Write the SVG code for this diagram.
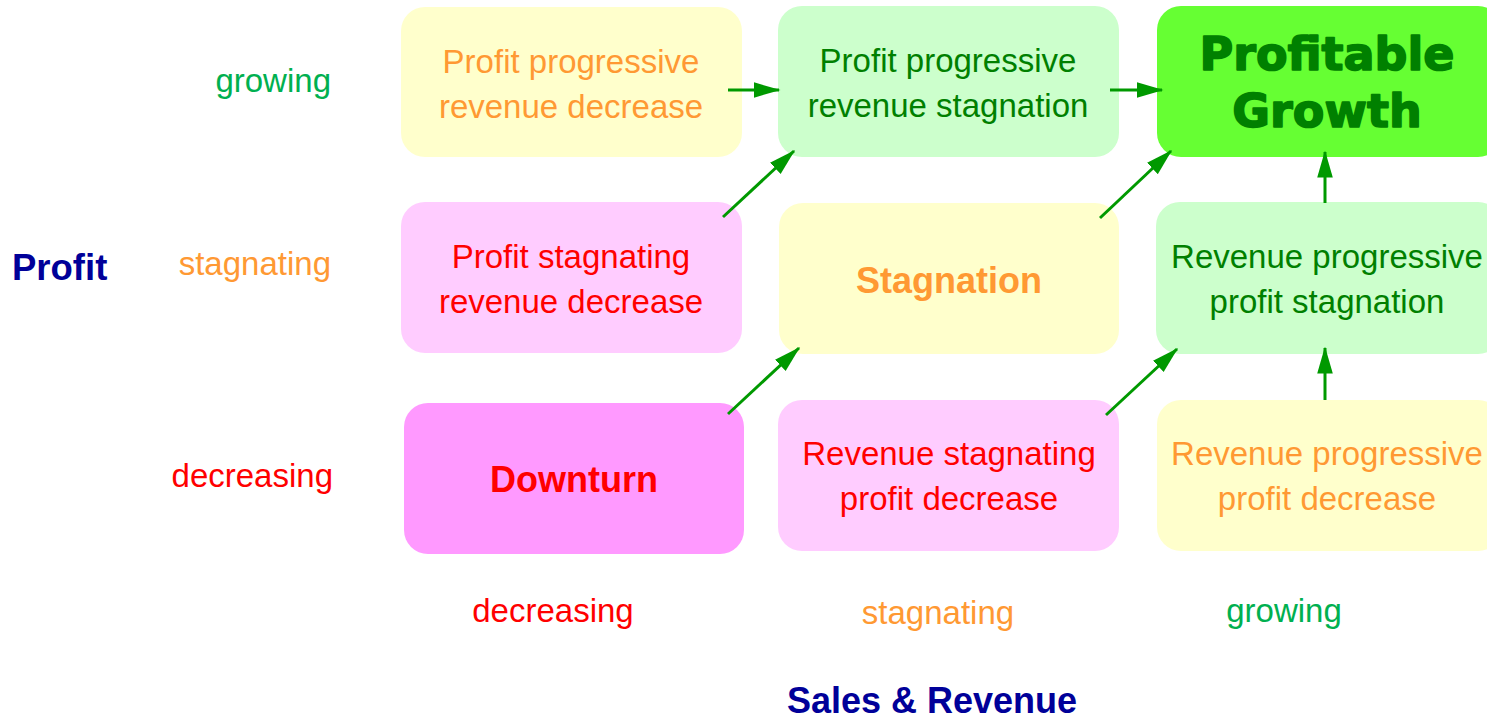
<svg xmlns="http://www.w3.org/2000/svg" width="1487" height="723" viewBox="0 0 1487 723">
<style>
text{font-family:"Liberation Sans",Arial,sans-serif;font-size:33px;text-anchor:middle}
.box{stroke:none}
.y{fill:#ffffcc}.g{fill:#ccffcc}.p{fill:#ffccff}.pp{fill:#ff99ff}.gg{fill:#66ff33}
.to{fill:#ff9933}.tg{fill:#008000}.tr{fill:#ff0000}.tn{fill:#000099}.ag{fill:#00b050}
.b{font-weight:bold}
.ax{text-anchor:end}
.big{font-family:"DejaVu Sans",sans-serif;font-weight:bold;font-size:46px;stroke:#008000;stroke-width:1.6;stroke-linejoin:round}
.c{stroke:#009900;stroke-width:3;fill:none;marker-end:url(#ah)}
</style>
<defs>
<marker id="ah" markerWidth="9" markerHeight="6" refX="8.5" refY="2.6" orient="auto" markerUnits="strokeWidth">
<path d="M0,0 L9,2.6 L0,5.2 Z" fill="#009900"/>
</marker>
</defs>
<rect width="1487" height="723" fill="#ffffff"/>

<g id="axis-labels">
<text class="ag ax" x="331" y="92">growing</text>
<text class="to ax" x="331" y="275">stagnating</text>
<text class="tr ax" x="333" y="487">decreasing</text>
<text class="tn b" x="12" y="280" style="text-anchor:start;font-size:36.5px">Profit</text>
<text class="tr" x="553" y="622">decreasing</text>
<text class="to" x="938" y="624">stagnating</text>
<text class="ag" x="1284" y="622">growing</text>
<text class="tn b" x="932" y="713" style="font-size:36px">Sales &amp; Revenue</text>
</g>

<g id="n-profit-prog-rev-dec">
<rect class="box y" x="401" y="7" width="341" height="150" rx="24"/>
<text class="to" x="571" y="73">Profit progressive</text>
<text class="to" x="571" y="118">revenue decrease</text>
</g>
<g id="n-profit-prog-rev-stag">
<rect class="box g" x="778" y="6" width="341" height="151" rx="24"/>
<text class="tg" x="948" y="72">Profit progressive</text>
<text class="tg" x="948" y="117">revenue stagnation</text>
</g>
<g id="n-profitable-growth">
<rect class="box gg" x="1157" y="6" width="345" height="151" rx="24"/>
<text class="tg big" x="1327" y="70">Profitable</text>
<text class="tg big" x="1327" y="127">Growth</text>
</g>

<g id="n-profit-stag-rev-dec">
<rect class="box p" x="401" y="202" width="341" height="151" rx="24"/>
<text class="tr" x="571" y="268">Profit stagnating</text>
<text class="tr" x="571" y="313">revenue decrease</text>
</g>
<g id="n-stagnation">
<rect class="box y" x="779" y="203" width="340" height="151" rx="24"/>
<text class="to b" x="949" y="293" style="font-size:36px">Stagnation</text>
</g>
<g id="n-rev-prog-profit-stag">
<rect class="box g" x="1156" y="202" width="346" height="152" rx="24"/>
<text class="tg" x="1327" y="268">Revenue progressive</text>
<text class="tg" x="1327" y="313">profit stagnation</text>
</g>

<g id="n-downturn">
<rect class="box pp" x="404" y="403" width="340" height="151" rx="24"/>
<text class="tr b" x="574" y="492" style="font-size:36px">Downturn</text>
</g>
<g id="n-rev-stag-profit-dec">
<rect class="box p" x="778" y="400" width="341" height="151" rx="24"/>
<text class="tr" x="949" y="465">Revenue stagnating</text>
<text class="tr" x="949" y="510">profit decrease</text>
</g>
<g id="n-rev-prog-profit-dec">
<rect class="box y" x="1157" y="400" width="345" height="151" rx="24"/>
<text class="to" x="1327" y="465">Revenue progressive</text>
<text class="to" x="1327" y="510">profit decrease</text>
</g>

<g id="connectors">
<line class="c" x1="728" y1="90" x2="779" y2="90"/>
<line class="c" x1="1110" y1="90" x2="1162" y2="90"/>
<line class="c" x1="723" y1="217" x2="794" y2="151"/>
<line class="c" x1="1100" y1="218" x2="1171" y2="151"/>
<line class="c" x1="728" y1="414" x2="799" y2="348"/>
<line class="c" x1="1106" y1="415" x2="1177" y2="349"/>
<line class="c" x1="1325" y1="203" x2="1325" y2="152"/>
<line class="c" x1="1325" y1="400" x2="1325" y2="348"/>
</g>
</svg>
